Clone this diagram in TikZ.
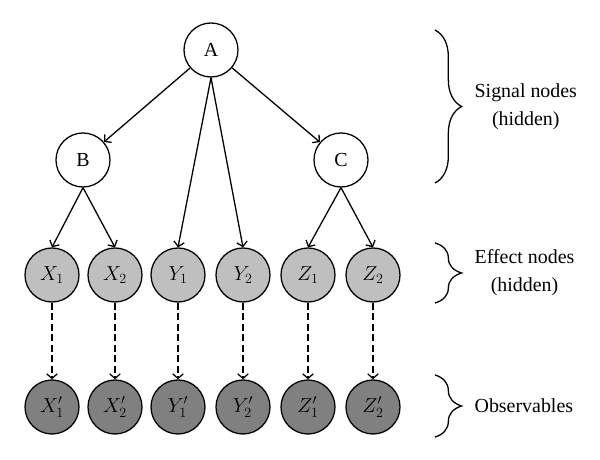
\documentclass[tikz,border=0pt]{standalone}
\usepackage{amsmath}
\usepackage{fontspec}
\setmainfont{Liberation Serif}
\usetikzlibrary{arrows.meta,decorations.pathreplacing}
\definecolor{effectgray}{gray}{0.75}
\definecolor{obsgray}{gray}{0.5}

\begin{document}
\begin{tikzpicture}[
  font=\fontsize{17}{24}\selectfont,
  signal/.style={circle,draw=black,fill=white,line width=1.1pt,minimum size=1.62cm,inner sep=0pt},
  effect/.style={signal,fill=effectgray},
  observed/.style={signal,fill=obsgray},
  edge/.style={line width=1.1pt,-{Straight Barb[length=4pt,width=9pt]}},
  obsedge/.style={edge,dash pattern=on 6pt off 3pt},
  bracket/.style={decorate,decoration={brace,amplitude=0.8cm},line width=1.1pt},
  bracelabel/.style={anchor=west,align=center,inner sep=0pt}
]
\useasboundingbox (0,0) rectangle (18,13.8);

% Draw the nodes
\node[signal] (A) at (6.33,12.3) {A};
\node[signal] (B) at (2.49,9.0) {B};
\node[signal] (C) at (10.23,9.0) {C};

\node[effect] (X1) at (1.56,5.55) {$X_1$};
\node[effect] (X2) at (3.45,5.55) {$X_2$};
\node[effect] (Y1) at (5.34,5.55) {$Y_1$};
\node[effect] (Y2) at (7.29,5.55) {$Y_2$};
\node[effect] (Z1) at (9.24,5.55) {$Z_1$};
\node[effect] (Z2) at (11.19,5.55) {$Z_2$};

\node[observed] (X1o) at (1.56,1.59) {$X'_1$};
\node[observed] (X2o) at (3.45,1.59) {$X'_2$};
\node[observed] (Y1o) at (5.34,1.59) {$Y'_1$};
\node[observed] (Y2o) at (7.29,1.59) {$Y'_2$};
\node[observed] (Z1o) at (9.24,1.59) {$Z'_1$};
\node[observed] (Z2o) at (11.19,1.59) {$Z'_2$};

% Draw the edges
\draw[edge] (A) -- (B);
\draw[edge] (A) -- (C);
\draw[edge] (A.south) -- (Y1.north);
\draw[edge] (A.south) -- (Y2.north);
\draw[edge] (B.south) -- (X1.north);
\draw[edge] (B.south) -- (X2.north);
\draw[edge] (C.south) -- (Z1.north);
\draw[edge] (C.south) -- (Z2.north);

\draw[obsedge] (X1.south) -- (X1o.north);
\draw[obsedge] (X2.south) -- (X2o.north);
\draw[obsedge] (Y1.south) -- (Y1o.north);
\draw[obsedge] (Y2.south) -- (Y2o.north);
\draw[obsedge] (Z1.south) -- (Z1o.north);
\draw[obsedge] (Z2.south) -- (Z2o.north);

% Draw the braces
\coordinate (s1) at (13.05,12.9);
\coordinate (s2) at (13.05,8.31);
\coordinate (e1) at (13.05,6.51);
\coordinate (e2) at (13.05,4.71);
\coordinate (o1) at (13.05,2.55);
\coordinate (o2) at (13.05,0.69);
\draw[bracket] (s1) -- (s2) node[midway,xshift=1.17cm,bracelabel] (signaltext) {Signal nodes\\(hidden)};
\draw[bracket] (e1) -- (e2) node[midway,xshift=1.17cm,bracelabel] (effecttext) {Effect nodes\\(hidden)};
\draw[bracket] (o1) -- (o2) node[midway,xshift=1.17cm,bracelabel] (obstext) {Observables};

\end{tikzpicture}
\end{document}
